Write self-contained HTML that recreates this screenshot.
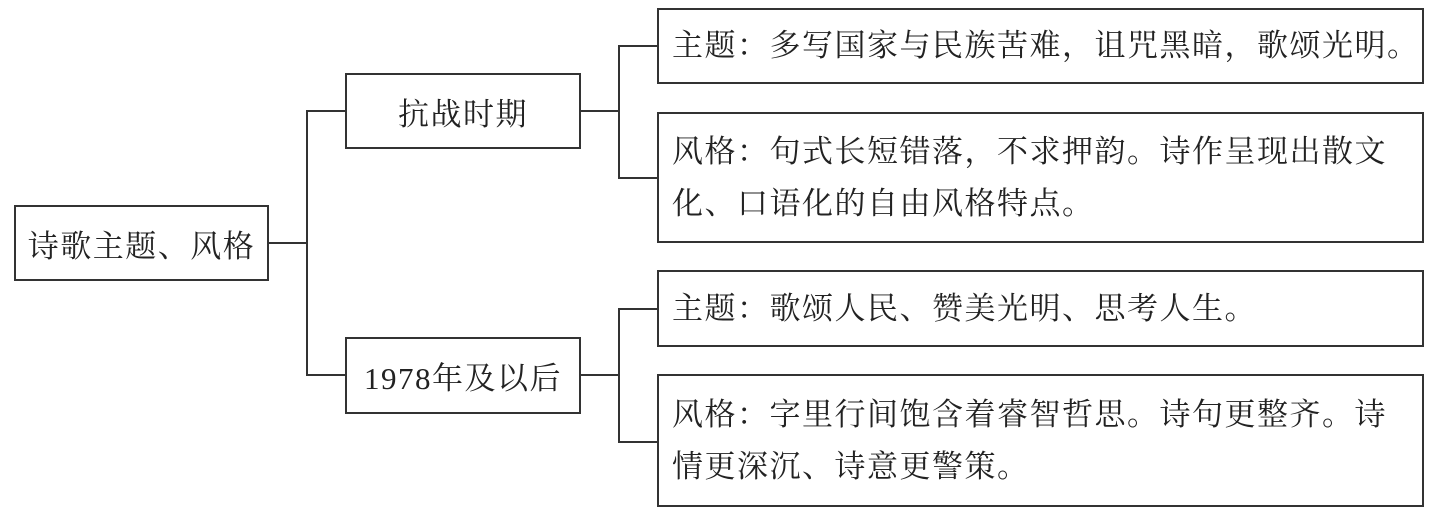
<!DOCTYPE html>
<html><head><meta charset="utf-8"><style>
body{margin:0;width:1436px;height:516px;background:#fff;position:relative;overflow:hidden;font-family:"Liberation Serif","Noto Serif CJK SC",serif;color:#222}
.b{position:absolute;border:2px solid #333;box-sizing:border-box;font-size:31px;letter-spacing:1.5px}
.c{display:flex;align-items:center;justify-content:center;white-space:nowrap}
.t{padding-left:13px;display:flex;align-items:center;line-height:52px}
.l{position:absolute;background:#333}
</style></head><body>
<div class="b c" style="left:14px;top:205px;width:255px;height:76px">诗歌主题、风格</div>
<div class="b c" style="left:345px;top:73px;width:236px;height:76px">抗战时期</div>
<div class="b c" style="left:345px;top:337px;width:236px;height:77px">1978年及以后</div>
<div class="b t" style="left:657px;top:8px;width:767px;height:76px;white-space:nowrap">主题：多写国家与民族苦难，诅咒黑暗，歌颂光明。</div>
<div class="b t" style="left:657px;top:112px;width:767px;height:131px"><div>风格：句式长短错落，不求押韵。诗作呈现出散文<br>化、口语化的自由风格特点。</div></div>
<div class="b t" style="left:657px;top:270px;width:767px;height:77px;white-space:nowrap">主题：歌颂人民、赞美光明、思考人生。</div>
<div class="b t" style="left:657px;top:374px;width:767px;height:133px"><div>风格：字里行间饱含着睿智哲思。诗句更整齐。诗<br>情更深沉、诗意更警策。</div></div>
<div class="l" style="left:268px;top:242px;width:40px;height:2px"></div>
<div class="l" style="left:306px;top:110px;width:2px;height:266px"></div>
<div class="l" style="left:306px;top:110px;width:40px;height:2px"></div>
<div class="l" style="left:306px;top:374px;width:40px;height:2px"></div>
<div class="l" style="left:580px;top:110px;width:40px;height:2px"></div>
<div class="l" style="left:618px;top:45px;width:2px;height:134px"></div>
<div class="l" style="left:618px;top:45px;width:40px;height:2px"></div>
<div class="l" style="left:618px;top:177px;width:40px;height:2px"></div>
<div class="l" style="left:580px;top:374px;width:40px;height:2px"></div>
<div class="l" style="left:618px;top:308px;width:2px;height:135px"></div>
<div class="l" style="left:618px;top:308px;width:40px;height:2px"></div>
<div class="l" style="left:618px;top:441px;width:40px;height:2px"></div>
</body></html>
